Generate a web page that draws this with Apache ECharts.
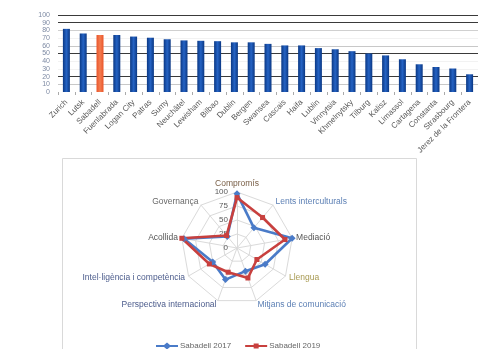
<!DOCTYPE html>
<html>
<head>
<meta charset="utf-8">
<script src="https://cdn.jsdelivr.net/npm/echarts@6/dist/echarts.min.js"></script>
<style>
  html, body { margin: 0; padding: 0; background: #fff; }
  #main { width: 478px; height: 349px; }
</style>
</head>
<body>
<div id="main"></div>
<script>
  // bar chart: ICC index score per city
  var cities = ["Zurich", "Lutsk", "Sabadell", "Fuenlabrada", "Logan City", "Patras", "Sumy",
    "Neuchâtel", "Lewisham", "Bilbao", "Dublin", "Bergen", "Swansea", "Cascais", "Haifa",
    "Lublin", "Vinnytsia", "Khmelnytsky", "Tilburg", "Kalisz", "Limassol", "Cartagena",
    "Constanta", "Strasbourg", "Jerez de la Frontera"];
  var scores = [82, 76, 74, 74, 72, 70.5, 68.5, 67, 66.5, 66, 64.5, 64.5, 62.5, 60.5, 60.5,
    57, 55.5, 53, 50, 47.5, 42.5, 36, 32.5, 30.5, 23];
  var highlightCity = "Sabadell";

  // radar chart, axes listed clockwise from the top
  var radarAxes = ["Compromís", "Lents interculturals", "Mediació", "Llengua",
    "Mitjans de comunicació", "Perspectiva internacional",
    "Intel·ligència i competència", "Acollida", "Governança"];
  var sabadell2017 = [97, 47, 100, 58, 44, 60, 50, 96, 27];
  var sabadell2019 = [90, 71, 87, 41, 57, 46, 57, 100, 29];

  var blueBar = new echarts.graphic.LinearGradient(0, 0, 1, 0, [
    { offset: 0, color: "#0a3783" },
    { offset: 0.5, color: "#2563c4" },
    { offset: 1, color: "#0a3783" }
  ]);
  var orangeBar = new echarts.graphic.LinearGradient(0, 0, 1, 0, [
    { offset: 0, color: "#e9552a" },
    { offset: 0.5, color: "#f47c50" },
    { offset: 1, color: "#e9552a" }
  ]);

  // echarts puts radar indicators anticlockwise
  function ccw(arr) {
    return [arr[0]].concat(arr.slice(1).reverse());
  }

  var nameColors = ["#7a6048", "#5d80b5", "#555", "#a89a52", "#5d80b5", "#4c5c8c",
    "#4c5c8c", "#555", "#6a6a6a"];

  var indicators = ccw(radarAxes).map(function(n, i) {
    var ind = { name: n, min: 0, max: 100, color: ccw(nameColors)[i] };
    if (i === 0) {
      ind.axisLabel = {
        show: true,
        fontSize: 8,
        color: "#595959",
        margin: 9,
        showMinLabel: true,
        showMaxLabel: true
      };
    }
    return ind;
  });

  // split line colours, from 0 up to 100
  var gridColors = ["#ffffff", "#c8c8c8", "#3a3a3a", "#f2f2f2", "#f2f2f2", "#3a3a3a",
    "#c8c8c8", "#f2f2f2", "#d0d0d0", "#3a3a3a", "#3a3a3a"];

  // legend icons: line with marker
  var iconDiamond = "path://M0,2.5L8,2.5L11,0L14,2.5L22,2.5L22,4.5L14,4.5L11,7L8,4.5L0,4.5Z";
  var iconSquare = "path://M0,2.5L8.5,2.5L8.5,1L13.5,1L13.5,2.5L22,2.5L22,4.5L13.5,4.5L13.5,6L8.5,6L8.5,4.5L0,4.5Z";

  var chart = echarts.init(document.getElementById("main"));
  chart.setOption({
    backgroundColor: "#fff",
    animation: false,
    textStyle: { fontFamily: "Liberation Sans, Arial, sans-serif" },
    graphic: [
      {
        type: "rect",
        shape: { x: 62.5, y: 158.5, width: 354, height: 200 },
        style: { fill: "none", stroke: "#d9d9d9", lineWidth: 1 },
        silent: true
      }
    ],
    grid: { left: 58, right: 0, top: 15, bottom: 257 },
    xAxis: {
      type: "category",
      data: cities,
      axisLine: { show: false },
      axisTick: { show: true, length: 3, lineStyle: { color: "#aaa" } },
      axisLabel: {
        rotate: 45,
        interval: 0,
        fontSize: 8,
        color: "#595959",
        margin: 9
      }
    },
    yAxis: {
      type: "value",
      min: 0,
      max: 100,
      interval: 10,
      axisLine: { show: false },
      axisTick: { show: false },
      axisLabel: { fontSize: 7, color: "#7d8aa3", margin: 8, lineHeight: 7 },
      splitLine: { lineStyle: { color: gridColors, width: 1.2 } }
    },
    legend: {
      data: [
        { name: "Sabadell 2017", icon: iconDiamond },
        { name: "Sabadell 2019", icon: iconSquare }
      ],
      left: 151,
      top: 337,
      itemWidth: 22,
      itemHeight: 7,
      itemGap: 14,
      textStyle: { fontSize: 8, color: "#666", padding: [0, 0, 0, -3] }
    },
    radar: {
      center: [237, 248],
      radius: 56,
      startAngle: 90,
      splitNumber: 4,
      shape: "polygon",
      nameGap: 4,
      axisName: { fontSize: 8.5, color: "#666" },
      splitLine: { lineStyle: { color: "#dadada", width: 1 } },
      splitArea: { show: false },
      axisLine: { lineStyle: { color: "#dadada" } },
      axisTick: { show: false },
      axisLabel: { show: false },
      indicator: indicators
    },
    series: [
      {
        type: "bar",
        barWidth: 7,
        data: scores.map(function(v, i) {
          return {
            value: v,
            itemStyle: { color: cities[i] === highlightCity ? orangeBar : blueBar }
          };
        })
      },
      {
        type: "radar",
        symbolSize: 5,
        z: 3,
        data: [
          {
            name: "Sabadell 2017",
            value: ccw(sabadell2017),
            symbol: "diamond",
            symbolSize: 7,
            itemStyle: { color: "#4a7bc8" },
            lineStyle: { color: "#4a7bc8", width: 2.6 }
          },
          {
            name: "Sabadell 2019",
            value: ccw(sabadell2019),
            symbol: "rect",
            symbolSize: 5,
            itemStyle: { color: "#c8403e" },
            lineStyle: { color: "#c8403e", width: 2.6 }
          }
        ]
      }
    ]
  });
</script>
</body>
</html>
